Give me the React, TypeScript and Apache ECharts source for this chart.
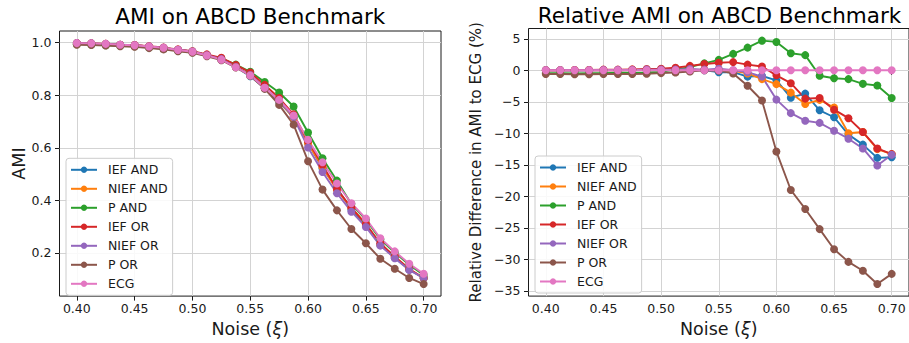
import { useEffect, useRef } from 'react';
import * as echarts from 'echarts';

const noise = [0.4, 0.4125, 0.425, 0.4375, 0.45, 0.4625, 0.475, 0.4875, 0.5, 0.5125, 0.525, 0.5375, 0.55, 0.5625, 0.575, 0.5875, 0.6, 0.6125, 0.625, 0.6375, 0.65, 0.6625, 0.675, 0.6875, 0.7];

const names = ['IEF AND', 'NIEF AND', 'P AND', 'IEF OR', 'NIEF OR', 'P OR', 'ECG'];
const colors = ['#1f77b4', '#ff7f0e', '#2ca02c', '#d62728', '#9467bd', '#8c564b', '#e377c2'];

// AMI values (left panel)
const amiIefAnd = [0.998, 0.997, 0.994, 0.992, 0.990, 0.985, 0.980, 0.972, 0.966, 0.952, 0.935, 0.906, 0.872, 0.826, 0.774, 0.716, 0.620, 0.521, 0.447, 0.364, 0.306, 0.230, 0.182, 0.137, 0.104];
const amiNiefAnd = [0.998, 0.997, 0.995, 0.992, 0.990, 0.985, 0.980, 0.972, 0.966, 0.952, 0.936, 0.906, 0.875, 0.827, 0.778, 0.713, 0.616, 0.526, 0.439, 0.371, 0.311, 0.230, 0.186, 0.139, 0.105];
const amiPAnd = [0.994, 0.993, 0.990, 0.988, 0.986, 0.981, 0.976, 0.969, 0.963, 0.952, 0.940, 0.916, 0.889, 0.850, 0.810, 0.757, 0.658, 0.560, 0.475, 0.386, 0.327, 0.252, 0.202, 0.155, 0.116];
const amiIefOr = [0.998, 0.997, 0.995, 0.992, 0.991, 0.986, 0.981, 0.974, 0.967, 0.955, 0.942, 0.915, 0.886, 0.839, 0.789, 0.727, 0.625, 0.534, 0.443, 0.372, 0.310, 0.237, 0.186, 0.139, 0.105];
const amiNiefOr = [0.998, 0.997, 0.995, 0.992, 0.990, 0.985, 0.980, 0.973, 0.966, 0.952, 0.937, 0.907, 0.877, 0.828, 0.780, 0.716, 0.601, 0.508, 0.427, 0.357, 0.299, 0.228, 0.180, 0.135, 0.105];
const amiPOr = [0.992, 0.991, 0.989, 0.986, 0.984, 0.979, 0.974, 0.967, 0.961, 0.948, 0.933, 0.906, 0.875, 0.824, 0.763, 0.688, 0.549, 0.441, 0.362, 0.291, 0.237, 0.178, 0.140, 0.105, 0.082];
const amiEcg = [0.998, 0.997, 0.995, 0.992, 0.990, 0.985, 0.980, 0.972, 0.965, 0.951, 0.935, 0.906, 0.875, 0.828, 0.782, 0.723, 0.630, 0.545, 0.464, 0.389, 0.331, 0.256, 0.206, 0.159, 0.121];

// Relative difference to ECG in % (right panel)
const relIefAnd = [0, 0, -0.05, 0, 0, 0, 0.05, 0.05, 0.1, 0.1, 0.05, 0, -0.3, -0.3, -1.0, -0.9, -1.6, -4.35, -3.7, -6.35, -7.45, -10.2, -11.8, -13.9, -13.8];
const relNiefAnd = [0, 0, 0, 0.05, 0, 0, 0.05, 0.05, 0.1, 0.1, 0.1, 0.05, 0, -0.1, -0.5, -1.4, -2.2, -3.55, -5.35, -4.7, -5.9, -10.0, -9.8, -12.5, -13.3];
const relPAnd = [-0.45, -0.45, -0.5, -0.45, -0.45, -0.4, -0.4, -0.35, -0.25, 0.1, 0.5, 1.1, 1.65, 2.6, 3.6, 4.7, 4.5, 2.7, 2.4, -0.87, -1.27, -1.4, -2.15, -2.42, -4.4];
const relIefOr = [0, 0, 0.05, 0.05, 0.1, 0.1, 0.15, 0.2, 0.25, 0.4, 0.7, 1.0, 1.2, 1.3, 0.9, 0.6, -0.8, -2.05, -4.5, -4.4, -6.25, -7.6, -9.8, -12.4, -13.3];
const relNiefOr = [0, 0, 0, 0, 0.05, 0.05, 0.05, 0.1, 0.1, 0.1, 0.2, 0.1, 0.25, 0, -0.3, -1.0, -4.65, -6.8, -8.0, -8.35, -9.6, -10.85, -12.4, -15.1, -13.4];
const relPOr = [-0.6, -0.6, -0.62, -0.62, -0.6, -0.6, -0.58, -0.55, -0.45, -0.35, -0.2, 0, -0.05, -0.5, -2.45, -4.8, -12.9, -19.0, -22.0, -25.2, -28.4, -30.4, -31.8, -33.9, -32.3];
const relEcg = [0, 0, 0, 0, 0, 0, 0, 0, 0, 0, 0, 0, 0, 0, 0, 0, 0, 0, 0, 0, 0, 0, 0, 0, 0];

const xTicks = [0.4, 0.45, 0.5, 0.55, 0.6, 0.65, 0.7];
const amiTicks = [0.2, 0.4, 0.6, 0.8, 1.0];
const relTicks = [-35, -30, -25, -20, -15, -10, -5, 0, 5];

const amiSeries = [amiIefAnd, amiNiefAnd, amiPAnd, amiIefOr, amiNiefOr, amiPOr, amiEcg];
const relSeries = [relIefAnd, relNiefAnd, relPAnd, relIefOr, relNiefOr, relPOr, relEcg];

const FONT = 'DejaVu Sans';
const INK = '#1a1a1a';

function xAxisFor(gridIndex: number) {
  return {
    type: 'value',
    gridIndex,
    min: 0.385,
    max: 0.715,
    axisLine: { show: false },
    axisTick: { show: true, length: 4.5, customValues: xTicks, lineStyle: { color: INK, width: 1 } },
    axisLabel: {
      customValues: xTicks,
      formatter: (v: number) => v.toFixed(2),
      fontSize: 12.5,
      fontFamily: FONT,
      color: INK,
      margin: 6,
    },
    splitLine: { show: true, lineStyle: { color: '#d3d3d3', width: 1 } },
    name: 'Noise ({it|ξ})',
    nameLocation: 'middle',
    nameGap: 23,
    nameTextStyle: {
      fontSize: 17.5,
      fontFamily: FONT,
      color: INK,
      rich: { it: { fontSize: 17.5, fontFamily: FONT, fontStyle: 'italic', color: INK } },
    },
  };
}

function legendFor(left: number, top: number) {
  return {
    data: names,
    orient: 'vertical',
    left,
    top,
    itemWidth: 26,
    itemHeight: 8,
    itemGap: 4,
    padding: [4, 5, 4, 4],
    backgroundColor: 'rgba(255,255,255,0.85)',
    borderColor: '#cccccc',
    borderWidth: 1,
    borderRadius: 3,
    textStyle: { fontSize: 12.5, fontFamily: FONT, color: INK, lineHeight: 15, padding: [0, 0, 0, 6] },
  };
}

const fmtRel = (v: number) => (v < 0 ? '\u2212' + Math.abs(v) : String(v));

const option: any = {
  animation: false,
  backgroundColor: '#ffffff',
  grid: [
    { left: 59.5, top: 31, width: 381.5, height: 270, show: true, borderColor: INK, borderWidth: 1, backgroundColor: 'transparent' },
    { left: 528.5, top: 28.5, width: 383.5, height: 271.5, show: true, borderColor: INK, borderWidth: 1, backgroundColor: 'transparent' },
  ],
  xAxis: [xAxisFor(0), xAxisFor(1)],
  yAxis: [
    {
      type: 'value',
      gridIndex: 0,
      min: 0.036,
      max: 1.044,
      axisLine: { show: false },
      axisTick: { show: true, length: 4.5, customValues: amiTicks, lineStyle: { color: INK } },
      axisLabel: { customValues: amiTicks, formatter: (v: number) => v.toFixed(1), fontSize: 12.5, fontFamily: FONT, color: INK, margin: 8 },
      splitLine: { show: true, lineStyle: { color: '#d3d3d3', width: 1 } },
      name: 'AMI',
      nameLocation: 'middle',
      nameGap: 32,
      nameTextStyle: { fontSize: 17.5, fontFamily: FONT, color: INK },
    },
    {
      type: 'value',
      gridIndex: 1,
      min: -35.83,
      max: 6.63,
      axisLine: { show: false },
      axisTick: { show: true, length: 4.5, customValues: relTicks, lineStyle: { color: INK } },
      axisLabel: { customValues: relTicks, formatter: fmtRel, fontSize: 12.5, fontFamily: FONT, color: INK, margin: 8 },
      splitLine: { show: true, lineStyle: { color: '#d3d3d3', width: 1 } },
      name: 'Relative Difference in AMI to ECG (%)',
      nameLocation: 'middle',
      nameGap: 45,
      nameTextStyle: { fontSize: 15, fontFamily: FONT, color: INK },
    },
  ],
  legend: [legendFor(66, 158.3), legendFor(535, 156)],
  graphic: [
    { type: 'text', x: 250.3, y: 16, style: { text: 'AMI on ABCD Benchmark', fontSize: 21.5, fontFamily: FONT, fill: '#000', align: 'center', verticalAlign: 'middle' } },
    { type: 'text', x: 719.5, y: 15, style: { text: 'Relative AMI on ABCD Benchmark', fontSize: 21.5, fontFamily: FONT, fill: '#000', align: 'center', verticalAlign: 'middle' } },
  ],
  series: [
    ...names.map((name, i) => ({
      name,
      type: 'line',
      xAxisIndex: 0,
      yAxisIndex: 0,
      data: noise.map((x, j) => [x, amiSeries[i][j]]),
      symbol: 'circle',
      symbolSize: 8,
      showSymbol: true,
      color: colors[i],
      lineStyle: { width: 1.9, color: colors[i] },
      itemStyle: { color: colors[i] },
      z: 2,
    })),
    ...names.map((name, i) => ({
      name,
      type: 'line',
      xAxisIndex: 1,
      yAxisIndex: 1,
      data: noise.map((x, j) => [x, relSeries[i][j]]),
      symbol: 'circle',
      symbolSize: 8,
      showSymbol: true,
      color: colors[i],
      lineStyle: { width: 1.9, color: colors[i] },
      itemStyle: { color: colors[i] },
      z: 2,
    })),
  ],
};

export default function App() {
  const ref = useRef<HTMLDivElement>(null);
  useEffect(() => {
    if (!ref.current) return;
    const chart = echarts.init(ref.current, null, { renderer: 'svg' });
    chart.setOption(option);
    return () => chart.dispose();
  }, []);
  return (
    <div
      ref={ref}
      style={{ position: 'fixed', left: 0, top: 0, width: 909, height: 343, background: '#ffffff', overflow: 'hidden' }}
    />
  );
}
